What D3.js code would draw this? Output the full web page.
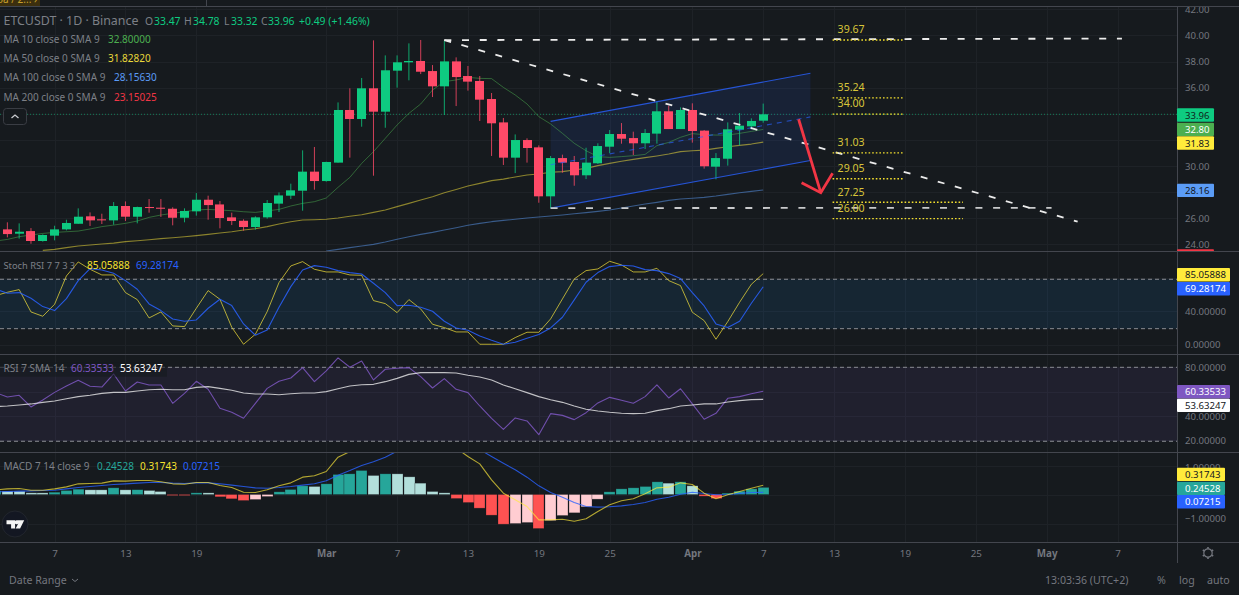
<!DOCTYPE html>
<html>
<head>
<meta charset="utf-8">
<script src="https://cdn.jsdelivr.net/npm/d3@7"></script>
<style>
  html, body { margin: 0; padding: 0; background: #161a1e; overflow: hidden; }
  svg { display: block; font-family: "Noto Sans", sans-serif; }
</style>
</head>
<body>
<svg id="chart" width="1239" height="595"></svg>
<script>
// daily candles, 2 Feb to 7 Apr 2024
const firstDay = "2024-02-02";
const opens = [24.72,25.15,24.82,25.02,24.26,24.67,25.15,25.58,26.15,25.92,25.84,26.94,26.12,26.86,26.81,26.73,26.04,26.53,27.42,27.06,26.07,25.81,25.33,26.07,27.12,27.73,28.11,29.57,28.85,30.26,34.29,33.60,35.95,34.16,37.30,37.94,38.04,37.27,36.10,38.01,36.89,36.51,35.13,33.34,30.64,31.99,31.43,27.68,30.61,30.31,29.29,30.21,31.48,32.45,32.14,31.74,32.48,34.19,32.83,34.29,32.71,29.95,30.56,32.78,33.04,33.47];
const highs = [25.35,25.69,25.61,25.25,24.77,25.43,25.89,26.76,26.45,26.35,27.24,27.29,26.89,27.47,27.47,26.84,26.76,27.93,27.73,27.32,26.43,25.92,26.15,27.40,27.98,28.65,31.20,31.46,30.33,34.87,35.95,36.74,39.62,38.47,38.47,39.39,39.65,37.73,39.60,38.32,37.66,36.89,35.59,33.68,32.42,32.12,31.58,30.77,30.87,30.77,31.40,31.74,32.76,33.29,32.63,32.83,34.93,34.62,34.49,34.80,32.76,30.99,33.34,34.06,33.65,34.78];
const lows = [24.28,24.54,24.44,24.05,24.21,24.31,25.07,25.58,25.41,25.56,25.51,25.79,25.61,26.43,26.10,25.46,25.69,26.20,25.89,25.23,25.48,25.05,25.13,25.97,26.48,27.47,26.58,28.19,28.80,30.26,30.64,33.01,29.26,32.93,36.00,36.56,37.04,35.28,33.91,34.59,35.77,33.45,30.77,30.08,29.46,30.26,27.19,26.76,29.49,28.49,29.00,30.15,30.99,31.71,30.84,31.30,31.71,32.83,32.83,31.79,29.80,28.98,30.03,31.58,32.81,33.32];
const closes = [25.15,24.79,24.97,24.26,24.72,25.15,25.64,26.12,25.84,25.84,26.94,26.12,26.86,26.79,26.73,26.04,26.56,27.42,27.01,26.02,25.79,25.33,26.07,27.17,27.75,28.14,29.57,28.85,30.31,34.29,33.60,35.95,34.16,37.33,37.94,38.04,37.22,36.10,38.01,36.81,36.46,35.08,33.27,30.64,31.99,31.38,27.68,30.61,30.26,29.29,30.26,31.53,32.45,32.09,31.74,32.53,34.19,32.83,34.29,32.68,29.98,30.61,32.81,33.09,33.45,33.96];

const ma10 = [24.26,24.38,24.59,24.72,24.84,24.92,24.97,25.02,25.18,25.36,25.48,25.61,25.79,26.07,26.25,26.38,26.50,26.63,26.68,26.63,26.58,26.50,26.45,26.56,26.68,26.94,27.14,27.27,27.55,28.37,29.13,30.20,31.10,32.12,33.14,34.03,34.75,35.82,36.46,36.59,36.79,36.71,36.69,36.02,35.44,34.75,33.78,33.22,32.50,31.74,31.17,30.72,30.66,30.72,30.79,30.89,31.56,31.81,32.20,32.48,32.40,32.37,32.37,32.50,32.65,32.80];
// ma50 comes into the pane on 6 Feb, ma100 on 1 Mar
const ma50Start = "2024-02-06";
const ma50 = [23.54,23.62,23.75,23.88,23.95,24.03,24.10,24.21,24.28,24.36,24.44,24.51,24.59,24.67,24.77,24.87,24.97,25.10,25.20,25.36,25.56,25.74,25.87,25.89,25.92,26.02,26.15,26.27,26.45,26.63,26.89,27.14,27.40,27.65,27.96,28.21,28.47,28.67,28.88,29.00,29.16,29.31,29.39,29.52,29.57,29.69,29.82,30.03,30.20,30.36,30.51,30.64,30.77,30.92,31.10,31.17,31.22,31.35,31.48,31.58,31.68,31.83];
const ma100Start = "2024-03-01";
const ma100 = [23.49,23.62,23.75,23.88,24.00,24.18,24.39,24.59,24.77,24.92,25.10,25.28,25.46,25.61,25.74,25.84,25.92,26.02,26.10,26.17,26.25,26.35,26.43,26.53,26.63,26.79,26.94,27.09,27.22,27.37,27.47,27.53,27.60,27.70,27.83,27.96,28.06,28.16];

const stochK = [58.7,62.7,65.9,39.1,33.9,48.3,82.3,99.1,90.3,83.5,83.5,62.3,53.9,31.9,39.1,22.3,21.5,43.5,64.7,54.3,20.7,0.3,12.3,39.5,74.3,94.3,99.5,90.3,87.1,87.1,83.5,83.1,52.7,49.1,38.3,53.9,42.7,24.3,20.3,15.1,15.1,0.3,0.3,0.3,8.3,14.7,14.7,30.7,54.7,78.7,88.7,90.7,99.9,95.5,87.1,87.1,91.5,76.7,70.7,38.7,28.7,6.3,27.5,50.7,72.3,85.06];
const stochD = [66.7,61.5,62.3,55.5,45.5,40.7,55.1,76.7,91.1,89.5,85.5,76.7,66.3,48.7,40.7,30.7,27.9,29.5,43.5,54.3,46.7,24.7,11.1,17.5,44.7,69.5,89.5,94.7,92.7,88.7,86.3,84.7,73.5,62.3,46.7,47.1,44.7,39.9,27.9,19.9,17.1,10.3,5.1,0.3,2.7,7.5,11.9,19.9,32.7,53.5,74.7,86.3,93.5,95.1,94.3,89.9,88.7,85.1,79.1,62.3,46.3,24.7,20.3,27.9,49.5,69.28];

const rsi = [59.2,55.6,57.0,47.4,53.1,59.4,64.6,69.3,64.4,63.8,74.5,60.5,67.9,65.5,65.5,50.4,58.6,68.5,61.9,46.3,43.0,38.1,50.4,62.7,68.5,71.2,79.7,68.2,77.0,87.7,80.0,85.2,69.6,78.4,79.2,79.7,72.3,63.0,70.7,61.9,59.2,48.2,38.1,29.0,38.4,35.9,24.6,41.9,40.5,37.0,42.7,50.7,55.3,52.9,50.4,55.9,65.5,54.8,62.4,49.9,37.3,42.2,54.5,55.9,58.3,60.33];
const rsiSma = [47.7,48.2,49.0,49.9,51.2,52.3,54.2,55.9,57.0,58.6,59.4,59.4,60.5,61.6,61.9,61.6,61.6,63.5,64.1,62.7,61.1,58.9,58.1,58.1,57.5,58.3,58.9,58.9,60.0,62.4,64.6,65.7,66.0,68.2,70.9,74.2,75.6,75.6,75.6,75.3,73.4,72.0,69.6,65.5,62.4,59.2,55.9,53.4,51.2,48.2,45.5,44.1,43.0,42.2,41.9,42.2,44.4,46.0,48.2,49.0,49.9,49.9,51.5,52.6,53.4,53.63];

const macdHist = [0.125,0.114,0.113,0.057,0.056,0.080,0.138,0.184,0.161,0.160,0.230,0.161,0.165,0.138,0.103,-0.011,-0.034,0.057,0.056,-0.080,-0.149,-0.207,-0.172,-0.069,0.092,0.172,0.299,0.276,0.368,0.690,0.713,0.828,0.655,0.713,0.712,0.609,0.391,0.103,0.057,-0.138,-0.276,-0.471,-0.713,-1.023,-1.000,-0.966,-1.172,-0.897,-0.724,-0.632,-0.425,-0.161,0.092,0.195,0.230,0.276,0.437,0.391,0.437,0.299,-0.057,-0.138,0.046,0.115,0.195,0.245];
const macdLine = [0.161,0.195,0.207,0.149,0.149,0.195,0.264,0.368,0.379,0.391,0.471,0.460,0.483,0.483,0.437,0.368,0.356,0.414,0.414,0.310,0.241,0.080,0.069,0.161,0.299,0.402,0.598,0.644,0.793,1.287,1.48,1.90,2.00,2.25,2.40,2.45,2.30,2.05,1.90,1.60,1.310,1.057,0.506,0.046,-0.184,-0.414,-0.874,-0.874,-0.851,-0.920,-0.839,-0.586,-0.356,-0.218,-0.149,0.023,0.230,0.253,0.402,0.345,0.046,-0.149,-0.011,0.103,0.218,0.317];
const macdSignal = [0.092,0.103,0.115,0.126,0.138,0.149,0.195,0.241,0.276,0.310,0.345,0.368,0.391,0.414,0.414,0.391,0.379,0.402,0.402,0.368,0.322,0.276,0.230,0.218,0.241,0.276,0.322,0.368,0.471,0.667,0.828,1.000,1.126,1.287,1.494,1.62,1.70,1.70,1.68,1.62,1.58,1.55,1.310,1.080,0.851,0.598,0.299,0.069,-0.092,-0.276,-0.414,-0.437,-0.425,-0.391,-0.345,-0.276,-0.161,-0.092,0.011,0.080,0.034,-0.011,0,0.034,0.069,0.072];

const timeTicks = ["2024-02-07","2024-02-13","2024-02-19","2024-03-01","2024-03-07","2024-03-13","2024-03-19","2024-03-25","2024-04-01","2024-04-07","2024-04-13","2024-04-19","2024-04-25","2024-05-01","2024-05-07"];
const priceTicks = [42,40,38,36,30,26,24];
const priceGrid = [42,40,38,36,34,32,30,28,26,24];
const stochTicks = [40,0];
const stochGrid = [80,40,0];
const stochBand = [78.3,19];
const rsiTicks = [80,40,20];
const rsiBand = [80,19.2];
const macdTicks = [1,-1];

// drawn levels: price, date where the dotted line stops
const levelPrices = [39.67,35.24,34.00,31.03,29.05,27.25,26.00];
const levelEnds = ["2024-04-18T20:00","2024-04-18T20:00","2024-04-18T20:00","2024-04-18T20:00","2024-04-18T20:00","2024-04-23T22:00","2024-04-23T22:00"];
const levelStart = "2024-04-12T21:00";

const topLine = [["2024-03-11",39.64],["2024-05-07T09:00",39.76]];
const downLine = [["2024-03-11",39.64],["2024-05-03T15:00",25.74]];
const bottomLine = [["2024-03-20",26.78],["2024-05-01T10:00",26.80]];
const channelUp = [["2024-03-20",33.42],["2024-04-11",37.10]];
const channelMid = [["2024-03-20",30.10],["2024-04-11",33.76]];
const channelLow = [["2024-03-20",26.78],["2024-04-11",30.42]];
const arrowShaft = [["2024-04-10",33.58],["2024-04-11T21:00",27.96]];
const arrowHead = [["2024-04-10T06:00",28.72],["2024-04-11T21:00",27.96],["2024-04-12T21:00",29.44]];

const GREEN = "#0ecb81", RED = "#ff4a68", BG = "#161a1e", SEP = "#43464e", AXIS = "#74777f";
const parse = s => new Date(s.length > 10 ? s + "Z" : s + "T00:00Z");
const dayAt = (start, i) => d3.utcDay.offset(parse(start), i);

const svg = d3.select("#chart");
svg.append("rect").attr("width", 1239).attr("height", 595).attr("fill", BG);

const paneRight = 1177;
const x = d3.scaleUtc().domain([parse("2024-02-07"), parse("2024-04-07")]).range([54.6, 763.2]);
const yPrice = d3.scaleLinear().domain([40, 24]).range([35.4, 244.4]);
const yStoch = d3.scaleLinear().domain([100, 0]).range([261.2, 344.5]);
const yRsi = d3.scaleLinear().domain([80, 20]).range([367.3, 440.3]);
const yMacd = d3.scaleLinear().domain([1, -1]).range([465.5, 523.5]);
const yMacdLabels = d3.scaleLinear().domain([1, -1]).range([467, 518.3]);

const panes = [["price", 7, 251], ["stoch", 252, 354], ["rsi", 355, 452], ["macd", 453, 542]];
const defs = svg.append("defs");
panes.forEach(p => {
  defs.append("clipPath").attr("id", "clip-" + p[0]).append("rect")
    .attr("x", 0).attr("y", p[1]).attr("width", paneRight).attr("height", p[2] - p[1]);
  defs.append("clipPath").attr("id", "clipaxis-" + p[0]).append("rect")
    .attr("x", paneRight).attr("y", p[1]).attr("width", 62).attr("height", p[2] - p[1]);
});
const layer = name => svg.append("g").attr("clip-path", "url(#clip-" + name + ")");

// grid
const grid = svg.append("g").attr("stroke", "#1e2227").attr("stroke-width", 1);
grid.selectAll("line.v").data(timeTicks).enter().append("line")
  .attr("x1", d => Math.round(x(parse(d))) + 0.5).attr("x2", d => Math.round(x(parse(d))) + 0.5)
  .attr("y1", 7).attr("y2", 542);
function hgrid(scale, vals) {
  grid.selectAll(null).data(vals).enter().append("line")
    .attr("x1", 0).attr("x2", paneRight)
    .attr("y1", d => Math.round(scale(d)) + 0.5).attr("y2", d => Math.round(scale(d)) + 0.5);
}
hgrid(yPrice, priceGrid);
hgrid(yStoch, stochGrid);
hgrid(yRsi, rsiTicks.concat([60]));
hgrid(yMacd, [1, 0, -1]);

const lineOf = (scale, start) => d3.line().x((d, i) => x(dayAt(start, i))).y(d => scale(d));
const drawPath = (g, vals, scale, start, color, w, op) => g.append("path").datum(vals)
  .attr("d", lineOf(scale, start)).attr("fill", "none").attr("stroke", color)
  .attr("stroke-width", w).attr("opacity", op === undefined ? 1 : op).attr("stroke-linejoin", "round");
const anchored = d3.line().x(d => x(parse(d[0]))).y(d => yPrice(d[1]));

// ---- price pane ----
const pg = layer("price");
pg.append("line").attr("x1", 0).attr("x2", paneRight)
  .attr("y1", yPrice(33.96)).attr("y2", yPrice(33.96))
  .attr("stroke", GREEN).attr("stroke-dasharray", "1 2").attr("opacity", 0.55);

// channel fill goes under the candles
pg.append("path").datum(channelUp.concat(channelLow.slice().reverse()))
  .attr("d", d => anchored(d) + "Z").attr("fill", "#2962ff").attr("fill-opacity", 0.11);

drawPath(pg, ma10, yPrice, firstDay, "#4caf50", 1, 0.5);
drawPath(pg, ma50, yPrice, ma50Start, "#ffeb3b", 1.1, 0.5);
drawPath(pg, ma100, yPrice, ma100Start, "#5b9cf6", 1.1, 0.5);

const candleW = 9;
const candles = opens.map((o, i) => ({ day: dayAt(firstDay, i), o, h: highs[i], l: lows[i], c: closes[i] }));
pg.selectAll("line.wick").data(candles).enter().append("line")
  .attr("x1", d => x(d.day)).attr("x2", d => x(d.day))
  .attr("y1", d => yPrice(d.h)).attr("y2", d => yPrice(d.l))
  .attr("stroke", d => d.c >= d.o ? GREEN : RED).attr("stroke-width", 1).attr("opacity", 0.8);
pg.selectAll("rect.body").data(candles).enter().append("rect")
  .attr("x", d => Math.round(x(d.day) - candleW / 2))
  .attr("width", candleW)
  .attr("y", d => yPrice(Math.max(d.o, d.c)))
  .attr("height", d => Math.max(1, Math.abs(yPrice(d.o) - yPrice(d.c))))
  .attr("fill", d => d.c >= d.o ? GREEN : RED);

// channel lines
[channelUp, channelLow].forEach(l => pg.append("path").attr("d", anchored(l))
  .attr("fill", "none").attr("stroke", "#2962ff").attr("stroke-width", 1.1).attr("opacity", 0.8));
pg.append("path").attr("d", anchored(channelMid)).attr("fill", "none").attr("stroke", "#2962ff")
  .attr("stroke-width", 1.1).attr("stroke-dasharray", "5 5").attr("opacity", 0.65);

// dashed trend lines
pg.append("path").attr("d", anchored(bottomLine)).attr("fill", "none").attr("stroke", "#c9cacc")
  .attr("stroke-width", 1.8).attr("stroke-dasharray", "7 10.7");
[topLine, downLine].forEach(l => pg.append("path").attr("d", anchored(l)).attr("fill", "none")
  .attr("stroke", "#ececec").attr("stroke-width", 1.8).attr("stroke-dasharray", "7 10.7"));

// fib style levels
pg.selectAll("line.level").data(levelPrices).enter().append("line")
  .attr("x1", x(parse(levelStart))).attr("x2", (d, i) => x(parse(levelEnds[i])))
  .attr("y1", d => yPrice(d) + 0.3).attr("y2", d => yPrice(d) + 0.3)
  .attr("stroke", "#f5e12e").attr("stroke-width", 1.4).attr("stroke-dasharray", "1.6 2");
pg.selectAll("text.level").data(levelPrices).enter().append("text")
  .attr("x", x(parse(levelStart)) + 5).attr("y", d => yPrice(d) - 6.4)
  .attr("fill", "#d8c53a").attr("font-size", 10.6).text(d => d.toFixed(2));

// red arrow
pg.append("path").attr("d", anchored(arrowShaft)).attr("fill", "none").attr("stroke", "#f23645").attr("stroke-width", 2.8);
pg.append("path").attr("d", anchored(arrowHead)).attr("fill", "none").attr("stroke", "#f23645").attr("stroke-width", 2.8);

// ---- stoch rsi pane ----
const sg = layer("stoch");
sg.append("rect").attr("x", 0).attr("width", paneRight)
  .attr("y", yStoch(stochBand[0])).attr("height", yStoch(stochBand[1]) - yStoch(stochBand[0]))
  .attr("fill", "#2196f3").attr("fill-opacity", 0.1);
sg.selectAll("line.band").data(stochBand).enter().append("line")
  .attr("x1", 0).attr("x2", paneRight).attr("y1", d => yStoch(d)).attr("y2", d => yStoch(d))
  .attr("stroke", "#8a8d93").attr("stroke-dasharray", "4 3");
drawPath(sg, stochK, yStoch, firstDay, "#ffeb3b", 1, 0.68);
drawPath(sg, stochD, yStoch, firstDay, "#2962ff", 1.1, 0.85);

// ---- rsi pane ----
const rg = layer("rsi");
rg.append("rect").attr("x", 0).attr("width", paneRight)
  .attr("y", yRsi(rsiBand[0])).attr("height", yRsi(rsiBand[1]) - yRsi(rsiBand[0]))
  .attr("fill", "#7e57c2").attr("fill-opacity", 0.1);
rg.selectAll("line.band").data(rsiBand).enter().append("line")
  .attr("x1", 0).attr("x2", paneRight).attr("y1", d => yRsi(d)).attr("y2", d => yRsi(d))
  .attr("stroke", "#8a8d93").attr("stroke-dasharray", "4 3");
drawPath(rg, rsi, yRsi, firstDay, "#7e57c2", 1.1, 0.85);
drawPath(rg, rsiSma, yRsi, firstDay, "#ffffff", 1.1, 0.72);

// ---- macd pane ----
const mg = layer("macd");
const histColor = (v, i) => {
  const up = i === 0 || v >= macdHist[i - 1];
  if (v >= 0) return up ? "#26a69a" : "#b2dfdb";
  return up ? "#ffcdd2" : "#ff5252";
};
mg.selectAll("rect.hist").data(macdHist).enter().append("rect")
  .attr("x", (d, i) => Math.round(x(dayAt(firstDay, i)) - 5.4))
  .attr("width", 11)
  .attr("y", d => yMacd(Math.max(d, 0)))
  .attr("height", d => Math.max(1, Math.abs(yMacd(d) - yMacd(0))))
  .attr("fill", histColor)
  .attr("stroke", BG).attr("stroke-opacity", 0.45).attr("stroke-width", 0.6);
drawPath(mg, macdSignal, yMacd, firstDay, "#2962ff", 1.1, 0.8);
drawPath(mg, macdLine, yMacd, firstDay, "#ffeb3b", 1.1, 0.68);

// tradingview badge
const logo = svg.append("g");
logo.append("circle").attr("cx", 15).attr("cy", 524).attr("r", 13).attr("fill", "#131722").attr("stroke", "#22262d");
logo.append("path").attr("fill", "#f4f4f4")
  .attr("d", "M6.5 520.2h8.6v8.2h-4v-4.2h-4.6zM16.6 520.2h7.6l-4.1 8.2h-4.4l2.8-5.4a2 2 0 1 1-1.9-2.8z");

// ---- axes ----
const AXIS_FONT = 9.6;
function valueAxis(name, scale, ticks, fmt) {
  const g = svg.append("g").attr("clip-path", "url(#clipaxis-" + name + ")");
  const axis = d3.axisRight(scale).tickValues(ticks).tickFormat(fmt).tickSize(0).tickPadding(8);
  g.append("g").attr("transform", "translate(" + paneRight + ",0)").call(axis)
    .call(s => s.select(".domain").remove())
    .call(s => s.selectAll("text").attr("fill", AXIS).attr("font-size", AXIS_FONT)
      .attr("font-family", "\"Noto Sans\", sans-serif"));
}
valueAxis("price", yPrice, priceTicks, d3.format(".2f"));
valueAxis("stoch", yStoch, stochTicks, d3.format(".5f"));
valueAxis("rsi", yRsi, rsiTicks, d3.format(".5f"));
valueAxis("macd", yMacdLabels, macdTicks, d => d3.format(".5f")(d).replace("-", "\u2212"));

const timeAxis = d3.axisBottom(x).tickValues(timeTicks.map(parse)).tickSize(0).tickPadding(0)
  .tickFormat(d => d.getUTCDate() === 1 ? d3.utcFormat("%b")(d) : d.getUTCDate());
svg.append("g").attr("transform", "translate(0,550)").call(timeAxis)
  .call(s => s.select(".domain").remove())
  .call(s => s.selectAll("text").attr("fill", AXIS).attr("font-size", 9.8)
    .attr("font-family", "\"Noto Sans\", sans-serif")
    .attr("font-weight", d => d.getUTCDate() === 1 ? 700 : 400));

// separators
const seps = svg.append("g").attr("stroke", SEP).attr("stroke-width", 1);
[6.5, 251.5, 354.5, 452.5, 542.5].forEach(v => seps.append("line")
  .attr("x1", 0).attr("x2", 1239).attr("y1", v).attr("y2", v));
seps.append("line").attr("x1", paneRight + 0.5).attr("x2", paneRight + 0.5).attr("y1", 7).attr("y2", 563);
svg.append("line").attr("x1", 206.5).attr("x2", 206.5).attr("y1", 0).attr("y2", 6).attr("stroke", SEP);

// last value tags: label, top, width, fill, text colour
const tagLabels = ["33.96","32.80","31.83","28.16","","85.05888","69.28174","60.33533","53.63247","0.31743","0.24528","0.07215"];
const tagTops = [108.3,122.7,136.3,183.7,249.3,268,282,385,398.7,467.7,481.7,495];
const tagWidths = [37,37,37,37,37,53,53,53,53,48,48,48];
const tagFills = [GREEN,"#4caf50","#ffeb3b","#5b9cf6","#f23645","#ffeb3b","#2962ff","#7e57c2","#ffffff","#ffeb3b","#26a69a","#2962ff"];
const tagInks = ["#10231c","#ffffff","#131722","#131722","#ffffff","#131722","#ffffff","#ffffff","#131722","#131722","#ffffff","#ffffff"];
const tags = svg.append("g");
tags.selectAll("rect").data(tagLabels).enter().append("rect")
  .attr("x", paneRight).attr("y", (d, i) => tagTops[i])
  .attr("width", (d, i) => tagWidths[i]).attr("height", (d, i) => i === 4 ? 1.7 : 13.4)
  .attr("rx", 1).attr("fill", (d, i) => tagFills[i]);
tags.selectAll("text").data(tagLabels).enter().append("text")
  .attr("x", 1185).attr("y", (d, i) => tagTops[i] + 10.2)
  .attr("font-size", AXIS_FONT).attr("fill", (d, i) => tagInks[i]).text(d => d);

// ---- legends ----
const LEG = "#7d8087";
function legendRow(yPos, parts, size) {
  parts.forEach(p => svg.append("text").attr("x", p[2]).attr("y", yPos)
    .attr("font-size", p[3] || size || 10).attr("fill", p[1]).text(p[0]));
}
svg.append("rect").attr("x", 0).attr("y", 362.7).attr("width", 167).attr("height", 14).attr("fill", BG).attr("opacity", 0.6);

legendRow(24.5, [["ETCUSDT \u00b7 1D \u00b7 Binance", LEG, 3.5]], 12.4);
legendRow(24.5, [["O", LEG, 145], ["33.47", GREEN, 154], ["H", LEG, 184], ["34.78", GREEN, 193], ["L", LEG, 224],
  ["33.32", GREEN, 231], ["C", LEG, 261], ["33.96", GREEN, 268], ["+0.49 (+1.46%)", GREEN, 299]], 10.4);

legendRow(42.6, [["MA 10 close 0 SMA 9", LEG, 3.5], ["32.80000", "#4caf50", 108]]);
legendRow(61.6, [["MA 50 close 0 SMA 9", LEG, 3.5], ["31.82820", "#e9d83a", 108]]);
legendRow(80.6, [["MA 100 close 0 SMA 9", LEG, 3.5], ["28.15630", "#5b9cf6", 114]]);
legendRow(100.6, [["MA 200 close 0 SMA 9", LEG, 3.5], ["23.15025", "#f23645", 114]]);
legendRow(268.6, [["Stoch RSI 7 7 3 3", LEG, 3.5, 9.3], ["85.05888", "#f5e12e", 87], ["69.28174", "#2962ff", 136]]);
legendRow(371.6, [["RSI 7 SMA 14", LEG, 3.5], ["60.33533", "#7e57c2", 71], ["53.63247", "#ffffff", 120]]);
legendRow(469.6, [["MACD 7 14 close 9", LEG, 3.5], ["0.24528", "#26a69a", 97], ["0.31743", "#f5e12e", 140], ["0.07215", "#2962ff", 183]]);

// collapse button
svg.append("rect").attr("x", 3.5).attr("y", 108.5).attr("width", 23).attr("height", 16).attr("rx", 3)
  .attr("fill", BG).attr("stroke", "#3a3d44");
svg.append("path").attr("d", "M11.5 118l3.5-3 3.5 3").attr("fill", "none").attr("stroke", "#c9cbcf").attr("stroke-width", 1.3);

// top left tag, clipped by the window
svg.append("rect").attr("x", 0).attr("y", 0).attr("width", 40).attr("height", 6).attr("fill", "#3c2f0e");
svg.append("text").attr("x", -3).attr("y", 3).attr("font-size", 10).attr("fill", "#c8a02c").text("oa / 2... \u203a");
svg.append("rect").attr("x", 0).attr("y", 6).attr("width", 1239).attr("height", 1).attr("fill", SEP);

// bottom bar
const bottom = svg.append("g").attr("font-size", 10.6).attr("fill", AXIS);
bottom.append("text").attr("x", 9).attr("y", 584).text("Date Range");
bottom.append("path").attr("d", "M72 579l3 2.5 3-2.5").attr("fill", "none").attr("stroke", AXIS);
bottom.append("text").attr("x", 1045).attr("y", 584).text("13:03:36 (UTC+2)");
bottom.append("text").attr("x", 1157).attr("y", 584).text("%");
bottom.append("text").attr("x", 1179).attr("y", 584).text("log");
bottom.append("text").attr("x", 1207).attr("y", 584).text("auto");

// gear
const gear = svg.append("g").attr("transform", "translate(1208,553)").attr("fill", "none").attr("stroke", AXIS);
gear.append("circle").attr("r", 4.2).attr("stroke-width", 1.2);
d3.range(6).forEach(i => gear.append("line").attr("x1", 0).attr("y1", -4.2).attr("x2", 0).attr("y2", -6)
  .attr("stroke-width", 1.6).attr("transform", "rotate(" + i * 60 + ")"));
</script>
</body>
</html>
